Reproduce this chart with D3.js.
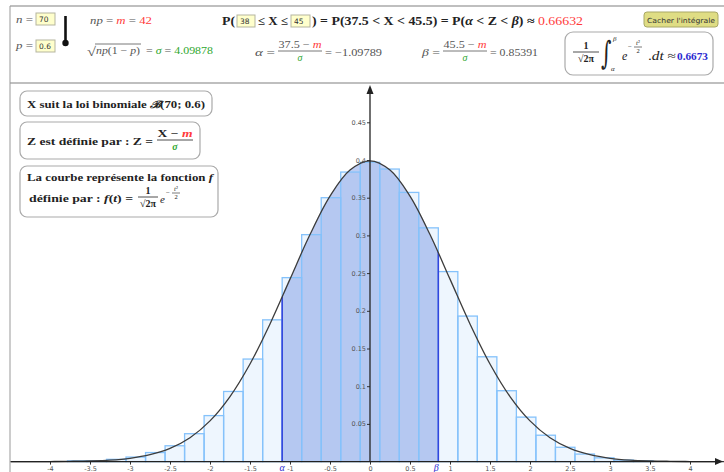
<!DOCTYPE html>
<html>
<head>
<meta charset="utf-8">
<script src="https://cdn.jsdelivr.net/npm/d3@7"></script>
<style>
  body { margin: 0; background: #fff; }
  svg { display: block; font-family: "Liberation Serif", serif; }
</style>
</head>
<body>
<div id="chart"></div>
<script>
// parameters shown on the chart
const mean = 42, sigma = 4.09878;
const alpha = -1.09789, beta = 0.85391;

// binomial bars: value k and scaled height sigma*P(X=k)
const ks = [27, 28, 29, 30, 31, 32, 33, 34, 35, 36, 37, 38, 39, 40, 41, 42,
            43, 44, 45, 46, 47, 48, 49, 50, 51, 52, 53, 54, 55, 56, 57];
const barHeights = [0.001, 0.001, 0.003, 0.006, 0.012, 0.021, 0.037, 0.061, 0.093, 0.136, 0.188, 0.244, 0.301, 0.350, 0.384, 0.397,
                    0.388, 0.357, 0.310, 0.252, 0.193, 0.139, 0.094, 0.059, 0.035, 0.019, 0.010, 0.005, 0.002, 0.001, 0.000];

// normal curve, sampled points
const curveT = [-4.75, -4.5, -4.25, -4, -3.75, -3.5, -3.25, -3, -2.75, -2.5, -2.25, -2, -1.75, -1.5, -1.25, -1, -0.75, -0.5, -0.25, 0,
                0.25, 0.5, 0.75, 1, 1.25, 1.5, 1.75, 2, 2.25, 2.5, 2.75, 3, 3.25, 3.5, 3.75, 4, 4.25, 4.5, 4.75];
const curveF = [0.0000, 0.0000, 0.0000, 0.0001, 0.0004, 0.0009, 0.0020, 0.0044, 0.0091, 0.0175, 0.0317, 0.0540, 0.0863, 0.1295, 0.1826, 0.2420, 0.3011, 0.3521, 0.3867, 0.3989,
                0.3867, 0.3521, 0.3011, 0.2420, 0.1826, 0.1295, 0.0863, 0.0540, 0.0317, 0.0175, 0.0091, 0.0044, 0.0020, 0.0009, 0.0004, 0.0001, 0.0000, 0.0000, 0.0000];

const xTicks = [-4, -3.5, -3, -2.5, -2, -1.5, -1, -0.5, 0, 0.5, 1, 1.5, 2, 2.5, 3, 3.5, 4];
const yTicks = [0.05, 0.1, 0.15, 0.2, 0.25, 0.3, 0.35, 0.4, 0.45];

const W = 724, H = 472;
const red = "#ff3b3b", green = "#2fa82f", blue = "#2a2ad0";

const svg = d3.select("#chart").append("svg").attr("width", W).attr("height", H);

const x = d3.scaleLinear().domain([-4, 4]).range([50, 690]);
const y = d3.scaleLinear().domain([0, 0.4]).range([461.6, 160]);
const kx = d3.scaleLinear().domain([mean, mean + sigma]).range([x(0), x(1)]);

// ---------- graph ----------
const defs = svg.append("defs");
defs.append("clipPath").attr("id", "view")
  .append("rect").attr("x", 10.5).attr("y", 84).attr("width", W - 10.5).attr("height", H - 84);
defs.append("clipPath").attr("id", "band")
  .append("rect").attr("x", x(alpha)).attr("y", 84).attr("width", x(beta) - x(alpha)).attr("height", H);

const pts = curveT.map((t, i) => [t, curveF[i]]);
const line = d3.line().x(d => x(d[0])).y(d => y(d[1])).curve(d3.curveCatmullRom);
const area = d3.area().x(d => x(d[0])).y0(y(0)).y1(d => y(d[1])).curve(d3.curveCatmullRom);

defs.append("clipPath").attr("id", "under").append("path").attr("d", area(pts));

const g = svg.append("g").attr("clip-path", "url(#view)");

const bars = ks.map((k, i) => ({ k, h: barHeights[i] }));

g.selectAll("rect.bar").data(bars).enter().append("rect")
  .attr("class", "bar")
  .attr("x", d => kx(d.k - 0.5))
  .attr("width", d => kx(d.k + 0.5) - kx(d.k - 0.5))
  .attr("y", d => y(d.h))
  .attr("height", d => y(0) - y(d.h))
  .attr("fill", "#eef6fe")
  .attr("stroke", "none");

// shaded area between alpha and beta
g.append("path").attr("d", area(pts))
  .attr("clip-path", "url(#band)")
  .attr("fill", "#6f90e2").attr("fill-opacity", 0.45);

g.selectAll("rect.edge").data(bars).enter().append("rect")
  .attr("class", "edge")
  .attr("x", d => kx(d.k - 0.5))
  .attr("width", d => kx(d.k + 0.5) - kx(d.k - 0.5))
  .attr("y", d => y(d.h))
  .attr("height", d => y(0) - y(d.h))
  .attr("fill", "none")
  .attr("stroke", "#85c2fb").attr("stroke-width", 1.3);

// vertical limits at alpha and beta
const lims = g.append("g").attr("clip-path", "url(#under)");
[alpha, beta].forEach(v => {
  lims.append("line").attr("x1", x(v)).attr("x2", x(v)).attr("y1", y(0)).attr("y2", y(0.45))
    .attr("stroke", "#3346dc").attr("stroke-width", 1.6);
});

g.append("path").attr("d", line(pts))
  .attr("fill", "none").attr("stroke", "#3c3c3c").attr("stroke-width", 1.3);

// axes
const xAxis = g.append("g").attr("transform", `translate(0,${y(0)})`)
  .call(d3.axisBottom(x).tickValues(xTicks).tickSize(3).tickPadding(2).tickFormat(d => String(d)));
xAxis.select(".domain").remove();
xAxis.selectAll("text").attr("font-family", "DejaVu Sans, sans-serif").attr("font-size", 6.5).attr("fill", "#555");
xAxis.selectAll("line").attr("stroke", "#333");

g.append("line").attr("x1", 10).attr("x2", 718).attr("y1", y(0)).attr("y2", y(0))
  .attr("stroke", "#222").attr("stroke-width", 1.2);
g.append("path").attr("d", `M${723},${y(0)} L${715},${y(0) - 3.5} L${715},${y(0) + 3.5} Z`).attr("fill", "#222");

const yAxis = g.append("g").attr("transform", `translate(${x(0)},0)`)
  .call(d3.axisLeft(y).tickValues(yTicks).tickSize(3).tickPadding(1).tickFormat(d => String(d)));
yAxis.select(".domain").remove();
yAxis.selectAll("text").attr("font-family", "DejaVu Sans, sans-serif").attr("font-size", 6.5).attr("fill", "#555");
yAxis.selectAll("line").attr("stroke", "#333");

g.append("line").attr("x1", x(0)).attr("x2", x(0)).attr("y1", y(0)).attr("y2", 92)
  .attr("stroke", "#222").attr("stroke-width", 1.3);
g.append("path").attr("d", `M${x(0)},85 L${x(0) - 3.5},94 L${x(0) + 3.5},94 Z`).attr("fill", "#222");

g.append("text").attr("x", x(alpha)).attr("y", 471).attr("text-anchor", "middle")
  .attr("font-size", 10).attr("font-style", "italic").attr("fill", blue).text("α");
g.append("text").attr("x", x(beta) - 2).attr("y", 471).attr("text-anchor", "middle")
  .attr("font-size", 10).attr("font-style", "italic").attr("fill", blue).text("β");

// ---------- frame ----------
svg.append("line").attr("x1", 10).attr("x2", W).attr("y1", 6).attr("y2", 6).attr("stroke", "#aaa").attr("stroke-width", 1.5);
svg.append("line").attr("x1", 10).attr("x2", W).attr("y1", 83).attr("y2", 83).attr("stroke", "#aaa").attr("stroke-width", 1.5);
svg.append("line").attr("x1", 10).attr("x2", 10).attr("y1", 6).attr("y2", H).attr("stroke", "#999").attr("stroke-width", 1);

// ---------- text helpers ----------
function label(parent, px, py, parts, o = {}) {
  const t = parent.append("text").attr("x", px).attr("y", py)
    .attr("font-size", o.size || 10)
    .attr("font-weight", o.bold ? "bold" : null)
    .attr("text-anchor", o.anchor || "start")
    .attr("fill", o.color || "#555");
  parts.forEach(pp => {
    const [s, c, it, nb] = typeof pp === "string" ? [pp] : pp;
    const ts = t.append("tspan").text(s);
    if (c) ts.attr("fill", c);
    if (it) ts.attr("font-style", "italic");
    if (nb) ts.attr("font-weight", "normal");
  });
  if (o.w) t.attr("textLength", o.w).attr("lengthAdjust", "spacingAndGlyphs");
  return t;
}
function inputBox(parent, bx, by, w, h, s) {
  parent.append("rect").attr("x", bx).attr("y", by).attr("width", w).attr("height", h)
    .attr("fill", "#ffffcc").attr("stroke", "#b5b5a0").attr("stroke-width", 1);
  parent.append("text").attr("x", bx + 3).attr("y", by + h - 3.5)
    .attr("font-family", "DejaVu Sans, sans-serif").attr("font-size", 7.5).attr("fill", "#333").text(s);
}
function frac(parent, cx, num, den, barY, half, o = {}) {
  label(parent, cx, barY - 3, num, { anchor: "middle", size: o.size || 9, color: o.color, bold: o.bold, w: o.nw });
  parent.append("line").attr("x1", cx - half).attr("x2", cx + half).attr("y1", barY).attr("y2", barY)
    .attr("stroke", o.color || "#555").attr("stroke-width", 0.8);
  label(parent, cx, barY + 10, den, { anchor: "middle", size: o.size || 9, color: o.color, bold: o.bold });
}
function expo(parent, ex, ey) {
  // small "-t²/2" exponent
  label(parent, ex, ey + 3, ["−"], { size: 7, color: "#222" });
  label(parent, ex + 10, ey - 1, [["t", null, true], "²"], { size: 6.5, color: "#222", anchor: "middle" });
  parent.append("line").attr("x1", ex + 6).attr("x2", ex + 14).attr("y1", ey + 1).attr("y2", ey + 1)
    .attr("stroke", "#222").attr("stroke-width", 0.6);
  label(parent, ex + 10, ey + 7, ["2"], { size: 6.5, color: "#222", anchor: "middle" });
}

// ---------- top panel ----------
const panel = svg.append("g");
label(panel, 16, 23, [["n", null, true], " ="], { size: 10, w: 17 });
inputBox(panel, 36, 13, 19, 12, "70");
label(panel, 16, 49, [["p", null, true], " ="], { size: 10, w: 17 });
inputBox(panel, 36, 40, 19, 12, "0.6");
panel.append("line").attr("x1", 65.5).attr("x2", 65.5).attr("y1", 16).attr("y2", 43)
  .attr("stroke", "#111").attr("stroke-width", 2.6);
panel.append("circle").attr("cx", 65.5).attr("cy", 43).attr("r", 3.2).attr("fill", "#111");

label(panel, 90, 24, [["np", null, true], " = ", ["m", red, true], " = ", ["42", red]], { size: 10, w: 62 });

label(panel, 87, 56, ["√"], { size: 13, w: 9 });
panel.append("line").attr("x1", 95).attr("x2", 141).attr("y1", 44).attr("y2", 44).attr("stroke", "#555").attr("stroke-width", 0.8);
label(panel, 96, 54, [["np", null, true], "(1 − ", ["p", null, true], ")"], { size: 10, w: 44 });
label(panel, 146, 54, ["= ", ["σ", green, true], " = ", ["4.09878", green]], { size: 10, w: 67 });

label(panel, 222, 25, ["P("], { size: 12, bold: true, color: "#222", w: 13 });
inputBox(panel, 237, 15, 18, 12, "38");
label(panel, 258, 25, ["≤ X ≤"], { size: 12, bold: true, color: "#222", w: 30 });
inputBox(panel, 291, 15, 19, 12, "45");
label(panel, 312, 25, [") = P(37.5 <  X < 45.5) = P(", ["α", null, true], " < Z < ", ["β", null, true], ") ≈ ",
  ["0.66632", red, false, true]], { size: 12, bold: true, color: "#222", w: 271 });

label(panel, 255, 56, [["α", null, true], " ="], { size: 10, w: 20 });
frac(panel, 300, ["37.5 − ", ["m", red, true]], [["σ", green, true]], 51, 22, { size: 10, nw: 43 });
label(panel, 325, 56, ["= −1.09789"], { size: 10, w: 57 });

label(panel, 422, 56, [["β", null, true], " ="], { size: 10, w: 18 });
frac(panel, 465, ["45.5 − ", ["m", red, true]], [["σ", green, true]], 51, 22, { size: 10, nw: 43 });
label(panel, 490, 56, ["= 0.85391"], { size: 10, w: 48 });

// button
panel.append("rect").attr("x", 644).attr("y", 12).attr("width", 74).attr("height", 15).attr("rx", 3)
  .attr("fill", "#dfdd84").attr("stroke", "#a9a866");
panel.append("text").attr("x", 681).attr("y", 22.5).attr("text-anchor", "middle")
  .attr("font-family", "DejaVu Sans, sans-serif").attr("font-size", 7).attr("fill", "#333")
  .attr("textLength", 68).attr("lengthAdjust", "spacingAndGlyphs").text("Cacher l'intégrale");

// integral box
panel.append("rect").attr("x", 565).attr("y", 32).attr("width", 148).attr("height", 43).attr("rx", 8)
  .attr("fill", "#fff").attr("stroke", "#aaa").attr("stroke-width", 1.2);
frac(panel, 586, ["1"], ["√2π"], 52, 13, { size: 10, color: "#222", bold: true });
panel.append("text").attr("transform", "translate(601,64) scale(1,1.6)")
  .attr("font-family", "DejaVu Serif, serif").attr("font-size", 20).attr("fill", "#222").text("∫");
label(panel, 613, 41, [["β", null, true]], { size: 7, color: "#222" });
label(panel, 611, 71, [["α", null, true]], { size: 7, color: "#222" });
label(panel, 622, 60, [["e", null, true]], { size: 12, color: "#222" });
expo(panel, 628, 46);
label(panel, 648, 60, [".", ["dt", null, true], " ≈"], { size: 12, color: "#222", w: 28 });
label(panel, 677, 60, ["0.6673"], { size: 11, bold: true, color: blue, w: 31 });

// ---------- left boxes ----------
const lb = svg.append("g");
lb.append("rect").attr("x", 20).attr("y", 91).attr("width", 192).attr("height", 25).attr("rx", 7)
  .attr("fill", "#fff").attr("stroke", "#aaa").attr("stroke-width", 1.2);
label(lb, 27, 108, ["X suit la loi binomiale ", ["ℬ", null, true], "(70; 0.6)"], { size: 10, bold: true, color: "#222", w: 178 });

lb.append("rect").attr("x", 20).attr("y", 122).attr("width", 180).attr("height", 37).attr("rx", 7)
  .attr("fill", "#fff").attr("stroke", "#aaa").attr("stroke-width", 1.2);
label(lb, 27, 145, ["Z est définie par  :  Z ="], { size: 10, bold: true, color: "#222", w: 126 });
frac(lb, 175, ["X − ", ["m", red, true]], [["σ", green, true]], 140, 18, { size: 10, bold: true, color: "#222", nw: 35 });

lb.append("rect").attr("x", 20).attr("y", 166).attr("width", 198).attr("height", 51).attr("rx", 7)
  .attr("fill", "#fff").attr("stroke", "#aaa").attr("stroke-width", 1.2);
label(lb, 27, 181, ["La courbe représente la fonction ", ["f", null, true]], { size: 10, bold: true, color: "#222", w: 186 });
label(lb, 29, 202, ["définie par :  ", ["f", null, true], "(", ["t", null, true], ") ="], { size: 10, bold: true, color: "#222", w: 104 });
frac(lb, 148, ["1"], ["√2π"], 197, 10, { size: 10, bold: true, color: "#222" });
label(lb, 160, 203, [["e", null, true]], { size: 11, color: "#222" });
expo(lb, 166, 192);
</script>
</body>
</html>
